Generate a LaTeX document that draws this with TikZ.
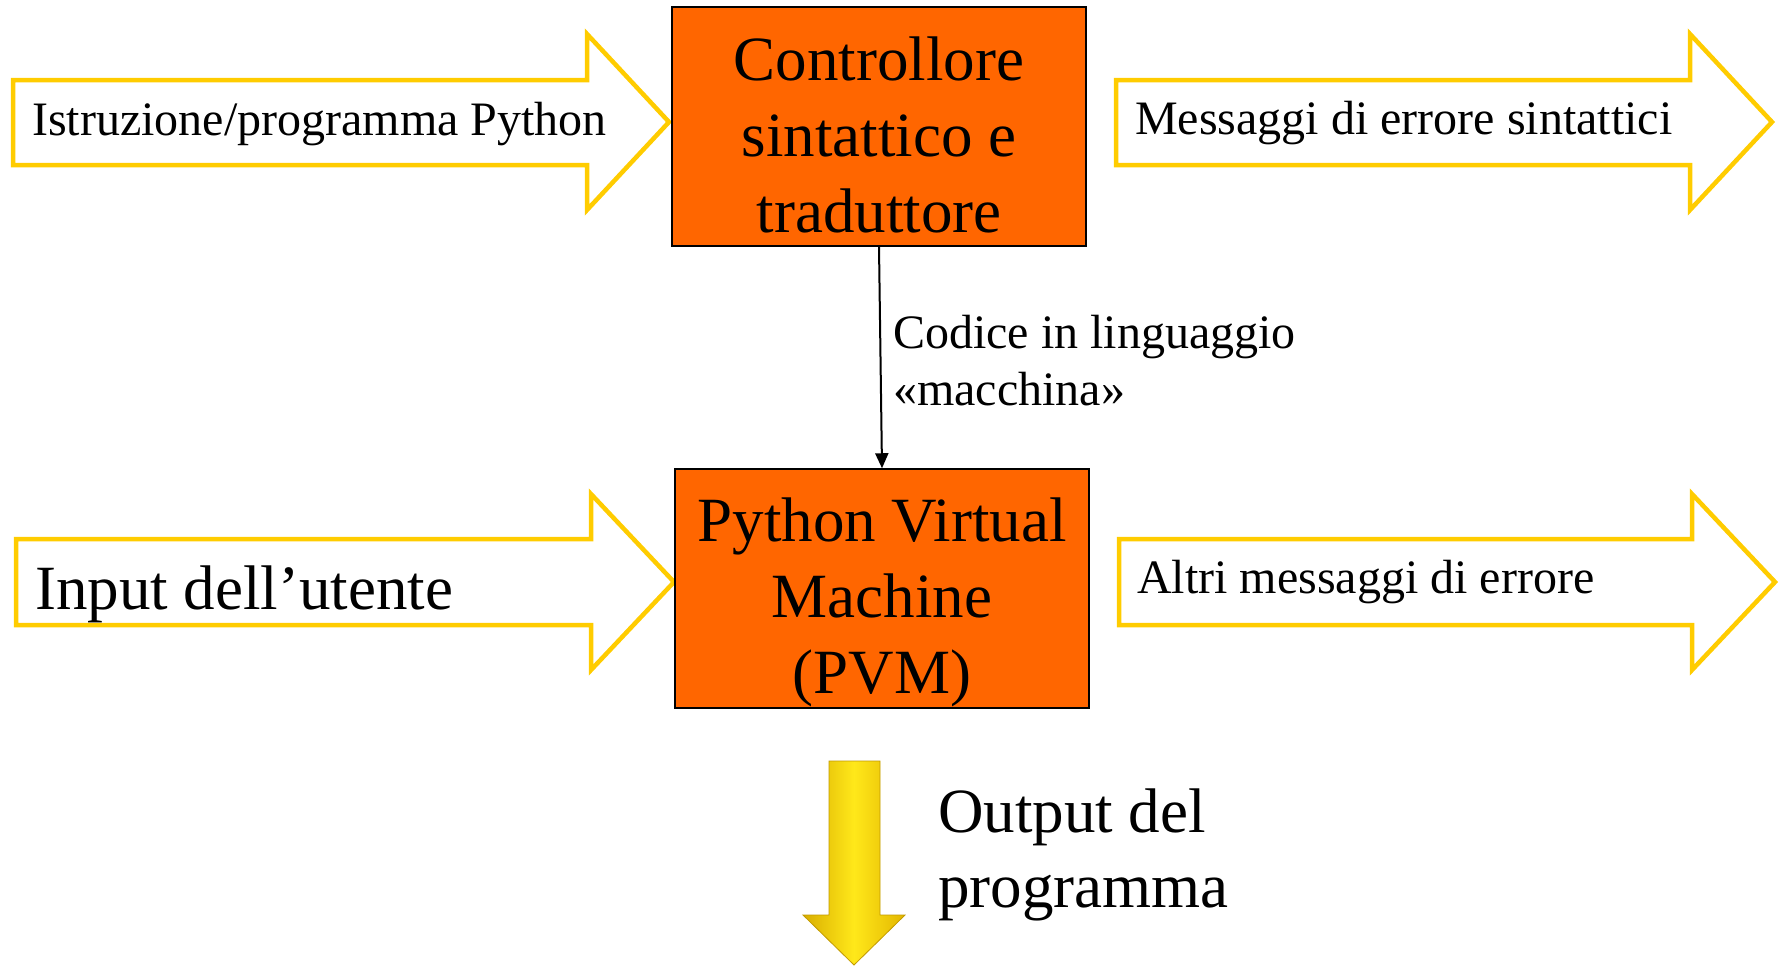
\documentclass[tikz,border=0pt]{standalone}
\usepackage{fontspec}
\setmainfont{Liberation Serif}
\usetikzlibrary{arrows.meta}
\definecolor{orng}{HTML}{FF6600}
\definecolor{ystroke}{HTML}{FFCC00}
\definecolor{goldA}{HTML}{D9AE00}
\definecolor{goldB}{HTML}{FFE81A}
\definecolor{goldC}{HTML}{E3B600}
\definecolor{goldEdge}{HTML}{C29A00}
\begin{document}
\begin{tikzpicture}[x=1bp,y=-1bp,
  procbox/.style={draw=black,line width=1.5bp,fill=orng,minimum width=414bp,minimum height=239bp,inner sep=0pt},
  boxtext/.style={font=\fontsize{63bp}{76bp}\selectfont,align=center,inner sep=0pt,anchor=base},
  yarrow/.style={draw=ystroke,line width=4.5bp,fill=white,line join=miter},
  midtext/.style={font=\fontsize{48bp}{57bp}\selectfont,inner sep=0pt,anchor=base west,align=left},
  bigtext/.style={font=\fontsize{63bp}{75bp}\selectfont,inner sep=0pt,anchor=base west,align=left},
  conn/.style={line width=2bp,-{Triangle[length=15bp,width=13bp]}}
]
\useasboundingbox (0,0) rectangle (1780,966);

% yellow outlined arrows
\draw[yarrow] (13,80) -- (587,80) -- (587,34) -- (669,122) -- (587,210) -- (587,165) -- (13,165) -- cycle;
\draw[yarrow] (1116,80) -- (1690,80) -- (1690,34) -- (1772,122) -- (1690,210) -- (1690,165) -- (1116,165) -- cycle;
\draw[yarrow] (16,539) -- (591,539) -- (591,494) -- (674,582) -- (591,670) -- (591,625) -- (16,625) -- cycle;
\draw[yarrow] (1119,539) -- (1692,539) -- (1692,494) -- (1775,582) -- (1692,670) -- (1692,625) -- (1119,625) -- cycle;

\node[midtext] (tin) at (32,135) {Istruzione/programma Python};
\node[midtext] (terr) at (1135,134) {Messaggi di errore sintattici};
\node[bigtext] (tuser) at (35,609) {Input dell’utente};
\node[midtext] (tother) at (1137,593) {Altri messaggi di errore};

% process boxes
\node[procbox] (cs) at (879,126.5) {};
\node[boxtext] (cstext) at (879,232) {Controllore\\sintattico e\\traduttore};
\node[procbox] (pvm) at (882,588.5) {};
\node[boxtext] (pvmtext) at (882,693) {Python Virtual\\Machine\\(PVM)};

% connector
\draw[conn] (cs.south) -- (pvm.north);
\node[midtext] (clabel) at (893,405) {Codice in linguaggio\\«macchina»};

% output arrow
\shade[left color=goldA, right color=goldC, middle color=goldB]
  (829,761) -- (880,761) -- (880,915) -- (905,915) -- (854,965) -- (803,915) -- (829,915) -- cycle;
\draw[goldEdge, line width=0.8bp, line join=miter]
  (829,761) -- (880,761) -- (880,915) -- (905,915) -- (854,965) -- (803,915) -- (829,915) -- cycle;
\node[bigtext] (tout) at (938,907) {Output del\\programma};
\end{tikzpicture}
\end{document}
